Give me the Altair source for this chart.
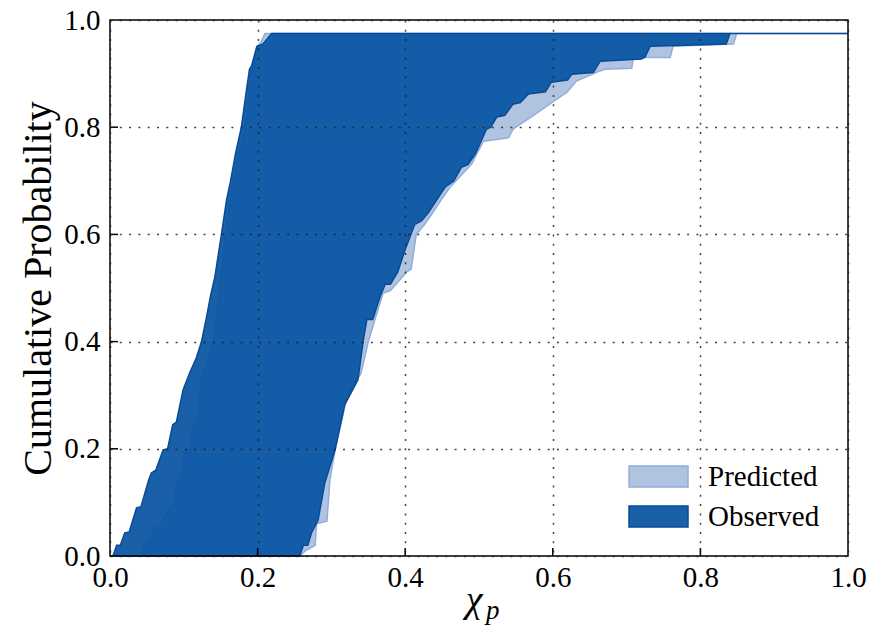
import altair as alt
import pandas as pd

# ---------------- data ----------------
# Observed band: left boundary (upper CDF) and right boundary (lower CDF)
obs_left_x = [0.0, 0.004, 0.009, 0.014, 0.020, 0.026, 0.036, 0.042, 0.052, 0.056, 0.062,
              0.072, 0.078, 0.085, 0.090, 0.099, 0.108, 0.117, 0.124, 0.131, 0.136, 0.142,
              0.151, 0.158, 0.163, 0.170, 0.178, 0.185, 0.189, 0.192, 0.199, 0.207, 0.219]
obs_left_y = [0.0, 0.0, 0.020, 0.020, 0.043, 0.045, 0.090, 0.092, 0.140, 0.155, 0.160,
              0.198, 0.200, 0.245, 0.250, 0.310, 0.342, 0.370, 0.400, 0.447, 0.484, 0.520,
              0.600, 0.665, 0.697, 0.750, 0.800, 0.870, 0.908, 0.915, 0.951, 0.955, 0.975]
obs_right_x = [0.257, 0.262, 0.268, 0.273, 0.282, 0.291, 0.305, 0.318, 0.336, 0.343,
               0.348, 0.356, 0.366, 0.373, 0.380, 0.390, 0.400, 0.413, 0.422, 0.431,
               0.443, 0.454, 0.466, 0.476, 0.485, 0.495, 0.510, 0.516, 0.524, 0.535,
               0.546, 0.556, 0.567, 0.590, 0.598, 0.620, 0.626, 0.655, 0.664, 0.720,
               0.725, 0.732, 0.835, 0.840, 1.0]
obs_right_y = [0.0, 0.020, 0.020, 0.043, 0.067, 0.136, 0.198, 0.282, 0.329, 0.400,
               0.441, 0.441, 0.484, 0.507, 0.507, 0.530, 0.572, 0.619, 0.625, 0.640,
               0.665, 0.688, 0.700, 0.725, 0.730, 0.750, 0.796, 0.800, 0.819, 0.822,
               0.843, 0.846, 0.862, 0.866, 0.884, 0.888, 0.899, 0.902, 0.923, 0.927,
               0.931, 0.951, 0.955, 0.975, 0.975]

# Predicted band
pred_left_x = [0.0, 0.041, 0.045, 0.052, 0.061, 0.068, 0.081, 0.086, 0.090, 0.096, 0.102,
               0.107, 0.113, 0.118, 0.124, 0.132, 0.140, 0.147, 0.156, 0.163, 0.167, 0.175,
               0.183, 0.188, 0.192, 0.200, 0.205, 0.210]
pred_left_y = [0.0, 0.0, 0.022, 0.025, 0.052, 0.055, 0.090, 0.095, 0.138, 0.145, 0.198,
               0.200, 0.240, 0.250, 0.330, 0.360, 0.400, 0.484, 0.596, 0.665, 0.700, 0.750,
               0.800, 0.860, 0.908, 0.951, 0.960, 0.975]
pred_right_x = [0.257, 0.265, 0.272, 0.278, 0.280, 0.294, 0.298, 0.305, 0.320, 0.330,
                0.340, 0.350, 0.359, 0.370, 0.380, 0.402, 0.408, 0.415, 0.427, 0.440,
                0.449, 0.462, 0.490, 0.506, 0.540, 0.546, 0.550, 0.576, 0.600, 0.619,
                0.632, 0.664, 0.671, 0.707, 0.709, 0.759, 0.763, 0.845, 0.849, 1.0]
pred_right_y = [0.0, 0.010, 0.015, 0.020, 0.060, 0.065, 0.142, 0.198, 0.290, 0.320,
                0.340, 0.400, 0.441, 0.490, 0.495, 0.530, 0.535, 0.600, 0.620, 0.646,
                0.665, 0.690, 0.731, 0.774, 0.780, 0.796, 0.800, 0.824, 0.847, 0.865,
                0.886, 0.905, 0.908, 0.910, 0.930, 0.930, 0.951, 0.955, 0.975, 0.975]

series_names = ["Predicted", "Observed"]
x_ticks = [0.0, 0.2, 0.4, 0.6, 0.8, 1.0]
y_ticks = [0.0, 0.2, 0.4, 0.6, 0.8, 1.0]
x_title_parts = ["χ", "p"]
y_title = "Cumulative Probability"


def band(lx, ly, rx, ry, name):
    top = max(ly)
    return pd.DataFrame({
        "x": lx + rx,
        "lo": [0.0] * len(lx) + ry,
        "hi": ly + [top] * len(rx),
        "series": name,
    })


pred_df = band(pred_left_x, pred_left_y, pred_right_x, pred_right_y, series_names[0])
obs_df = band(obs_left_x, obs_left_y, obs_right_x, obs_right_y, series_names[1])

# ---------------- styling ----------------
W, H = 738, 536
FONT = "Liberation Serif"
PRED_FILL, PRED_EDGE = "#b0c4e2", "#8eaedb"
OBS_FILL, OBS_EDGE = "#0552a2", "#0a4a94"
OBS_OPA = 0.92

xs = alt.Scale(domain=[0, 1], nice=False, zero=False)
ys = alt.Scale(domain=[0, 1], nice=False, zero=False)

grid_style = dict(grid=True, gridColor="#222222", gridDash=[2, 7.3], gridWidth=1.5,
                  gridOpacity=0.85, ticks=False, domain=False, labelFont=FONT,
                  labelFontSize=29, labelFontWeight="normal", labelColor="black",
                  labelFlush=False, format=".1f", zindex=1)

x_axis = alt.Axis(values=x_ticks, labelPadding=7, title=None, **grid_style)
y_axis = alt.Axis(values=y_ticks, labelPadding=10, title=y_title, titleFont=FONT,
                  titleFontSize=40, titleFontWeight="normal", titleColor="black",
                  titleX=-72, titleY=H / 2, titleAlign="center", titleBaseline="middle",
                  **grid_style)

pred_area = alt.Chart(pred_df).mark_area(
    orient="vertical", color=PRED_FILL, fillOpacity=1, stroke=PRED_EDGE, strokeWidth=1.5
).encode(
    x=alt.X("x:Q", scale=xs, axis=x_axis),
    y=alt.Y("lo:Q", scale=ys, axis=y_axis),
    y2="hi:Q",
)

obs_area = alt.Chart(obs_df).mark_area(
    orient="vertical", color=OBS_FILL, fillOpacity=OBS_OPA, stroke=OBS_EDGE, strokeWidth=1.5
).encode(
    x=alt.X("x:Q", scale=xs, axis=x_axis),
    y=alt.Y("lo:Q", scale=ys, axis=y_axis),
    y2="hi:Q",
)

frame = alt.Chart(pd.DataFrame({"a": [0]})).mark_rect(
    fillOpacity=0, stroke="black", strokeWidth=1.5
).encode(x=alt.value(0), x2=alt.value(W), y=alt.value(0), y2=alt.value(H))

xt_df = pd.DataFrame({"t": x_ticks[1:-1]})
yt_df = pd.DataFrame({"t": y_ticks[1:-1]})
x_tick_marks = alt.Chart(xt_df).mark_rule(color="black", strokeWidth=1.5).encode(
    x=alt.X("t:Q", scale=xs, axis=x_axis), y=alt.value(H), y2=alt.value(H - 8))
y_tick_marks = alt.Chart(yt_df).mark_rule(color="black", strokeWidth=1.5).encode(
    y=alt.Y("t:Q", scale=ys, axis=y_axis), x=alt.value(0), x2=alt.value(8))


# legend (bottom right, inside the plot)
def legend_entry(i, fill, edge, opa, top):
    d = pd.DataFrame({"label": [series_names[i]]})
    r = alt.Chart(d).mark_rect(color=fill, fillOpacity=opa, stroke=edge, strokeWidth=1.5).encode(
        x=alt.value(519), x2=alt.value(578), y=alt.value(top), y2=alt.value(top + 21))
    t = alt.Chart(d).mark_text(font=FONT, fontSize=29, align="left", baseline="alphabetic",
                               color="black").encode(
        text="label:N", x=alt.value(598), y=alt.value(top + 20))
    return [r, t]


leg = legend_entry(0, PRED_FILL, PRED_EDGE, 1.0, 446) + \
      legend_entry(1, OBS_FILL, OBS_EDGE, OBS_OPA, 486)

# x-axis title: chi with subscript p
tdf0 = pd.DataFrame({"s": [x_title_parts[0]]})
tdf1 = pd.DataFrame({"s": [x_title_parts[1]]})
chi = alt.Chart(tdf0).mark_text(font=FONT, fontSize=38, fontStyle="italic", align="center",
                                baseline="alphabetic", color="black").encode(
    text="s:N", x=alt.value(364), y=alt.value(592))
sub = alt.Chart(tdf1).mark_text(font=FONT, fontSize=27, fontStyle="italic", align="left",
                                baseline="alphabetic", color="black").encode(
    text="s:N", x=alt.value(376), y=alt.value(599))

chart = alt.layer(
    pred_area, obs_area, frame, x_tick_marks, y_tick_marks, *leg, chi, sub
).properties(
    width=W, height=H,
    autosize=alt.AutoSizeParams(type="none"),
    padding={"left": 110, "top": 20, "right": 27, "bottom": 79},
).configure_view(
    strokeWidth=0
).configure_axis(
    labelFont=FONT, labelFontSize=29, labelFontWeight="normal", labelColor="black",
    titleFont=FONT, titleFontWeight="normal", titleColor="black"
)

chart.save("out.html", embed_options={"renderer": "svg", "actions": False})
